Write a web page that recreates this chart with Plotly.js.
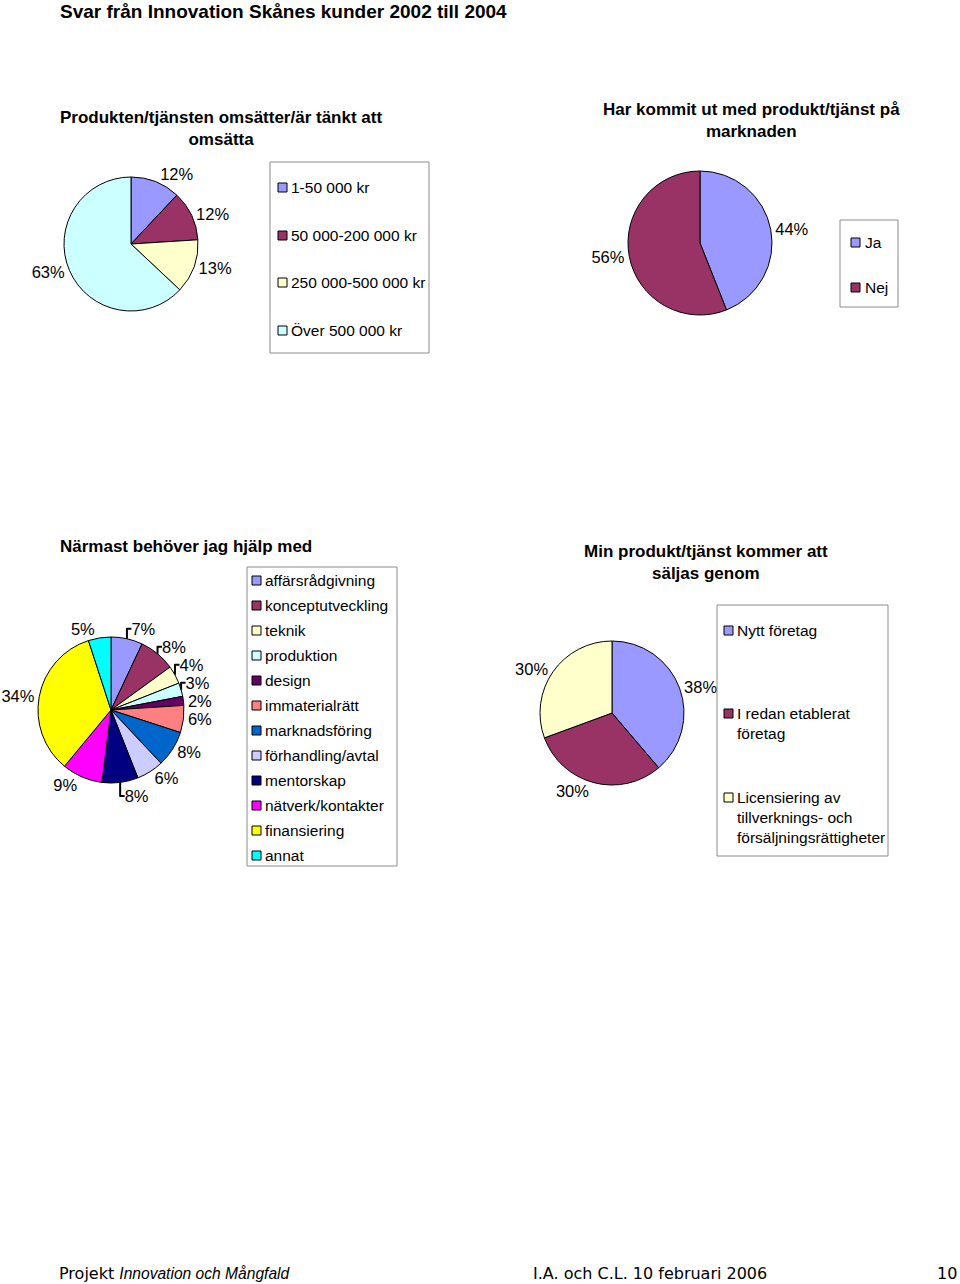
<!DOCTYPE html>
<html>
<head>
<meta charset="utf-8">
<script src="https://cdn.plot.ly/plotly-3.0.1.min.js"></script>
<style>
html,body{margin:0;padding:0;background:#fff;}
#chart{width:960px;height:1284px;}
</style>
</head>
<body>
<div id="chart"></div>
<script>
// ---------- Data ----------
const omsLabels = ['1-50 000 kr', '50 000-200 000 kr', '250 000-500 000 kr', 'Över 500 000 kr'];
const omsValues = [12, 12, 13, 63];
const omsColors = ['#9999FF', '#993366', '#FFFFCC', '#CCFFFF'];

const marknLabels = ['Ja', 'Nej'];
const marknValues = [44, 56];
const marknColors = ['#9999FF', '#993366'];

const hjalpLabels = ['affärsrådgivning', 'konceptutveckling', 'teknik', 'produktion', 'design',
  'immaterialrätt', 'marknadsföring', 'förhandling/avtal', 'mentorskap', 'nätverk/kontakter',
  'finansiering', 'annat'];
const hjalpValues = [7, 8, 4, 3, 2, 6, 8, 6, 8, 9, 34, 5];
const hjalpColors = ['#9999FF', '#993366', '#FFFFCC', '#CCFFFF', '#660066', '#FF8080',
  '#0066CC', '#CCCCFF', '#000080', '#FF00FF', '#FFFF00', '#00FFFF'];

const saljLabels = ['Nytt företag', 'I redan etablerat företag',
  'Licensiering av tillverknings- och försäljningsrättigheter'];
const saljLegendText = ['Nytt företag', 'I redan etablerat<br>företag',
  'Licensiering av<br>tillverknings- och<br>försäljningsrättigheter'];
const saljValues = [38, 30, 30];
const saljColors = ['#9999FF', '#993366', '#FFFFCC'];

// ---------- Layout helpers ----------
const W = 960, H = 1284;
const FONT = 'Liberation Sans, Arial, sans-serif';
const px = x => x / W;
const py = y => 1 - y / H;
function dom(cx, cy, r) {
  return {x: [px(cx - r), px(cx + r)], y: [py(cy + r), py(cy - r)]};
}
function pie(labels, values, colors, d) {
  return {
    type: 'pie', labels: labels, values: values, sort: false,
    direction: 'clockwise', rotation: 0,
    marker: {colors: colors, line: {color: '#000', width: 1}},
    textposition: 'outside', texttemplate: '%{value}%',
    textfont: {family: FONT, size: 16.5, color: '#000'},
    domain: d, showlegend: false, hoverinfo: 'none'
  };
}

const data = [
  pie(omsLabels, omsValues, omsColors, dom(131, 244, 67)),
  pie(marknLabels, marknValues, marknColors, dom(700, 243, 72)),
  pie(hjalpLabels, hjalpValues, hjalpColors, dom(111, 710, 73)),
  pie(saljLabels, saljValues, saljColors, dom(612, 713, 72))
];

const shapes = [];
const annotations = [];

function legend(box, swX, txX, ys, texts, colors) {
  shapes.push({type: 'rect', xref: 'paper', yref: 'paper',
    x0: px(box[0]), x1: px(box[2]), y0: py(box[3]), y1: py(box[1]),
    line: {color: '#8c8c8c', width: 1}, fillcolor: 'rgba(0,0,0,0)'});
  texts.forEach((t, i) => {
    const y = ys[i];
    shapes.push({type: 'rect', xref: 'paper', yref: 'paper',
      x0: px(swX), x1: px(swX + 9), y0: py(y + 5), y1: py(y - 4),
      line: {color: '#000', width: 1}, fillcolor: colors[i]});
    annotations.push({xref: 'paper', yref: 'paper', x: px(txX), y: py(y - 10),
      xanchor: 'left', yanchor: 'top', align: 'left', showarrow: false, text: t,
      font: {family: FONT, size: 15.5, color: '#000'}});
  });
}

legend([270, 162, 429, 353], 278, 289, [187, 235, 282, 330], omsLabels, omsColors);
legend([840, 220, 898, 307], 851, 863, [242, 287], marknLabels, marknColors);
legend([247, 567, 397, 866], 252, 263, hjalpLabels.map((_, i) => 580 + 25 * i), hjalpLabels, hjalpColors);
legend([717, 605, 888, 856], 724, 735, [630, 713, 797], saljLegendText, saljColors);

function title(text, x, y, anchor, size) {
  annotations.push({xref: 'paper', yref: 'paper', x: px(x), y: py(y),
    xanchor: anchor, yanchor: 'middle', align: 'center', showarrow: false,
    text: '<b>' + text + '</b>', font: {family: FONT, size: size, color: '#000'}});
}
title('Svar från Innovation Skånes kunder 2002 till 2004', 58, 11, 'left', 19);
title('Produkten/tjänsten omsätter/är tänkt att<br>omsätta', 221, 129, 'center', 17);
title('Har kommit ut med produkt/tjänst på<br>marknaden', 751, 120, 'center', 17);
title('Närmast behöver jag hjälp med', 186, 546, 'center', 17);
title('Min produkt/tjänst kommer att<br>säljas genom', 706, 562, 'center', 17);

const FOOT = 'DejaVu Sans, Verdana, sans-serif';
function foot(text, x, anchor) {
  annotations.push({xref: 'paper', yref: 'paper', x: px(x), y: py(1273),
    xanchor: anchor, yanchor: 'middle', showarrow: false, text: text,
    font: {family: FOOT, size: 16, color: '#000'}});
}
foot('Projekt <span style="font-family:Liberation Sans, Arial, sans-serif;font-size:15.6px"><i>Innovation och Mångfald</i></span>', 57, 'left');
foot('I.A. och C.L. 10 februari 2006', 531, 'left');
foot('10', 959, 'right');

const layout = {
  width: W, height: H,
  margin: {l: 0, r: 0, t: 0, b: 0},
  paper_bgcolor: '#fff', plot_bgcolor: '#fff',
  showlegend: false,
  shapes: shapes, annotations: annotations
};

Plotly.newPlot('chart', data, layout, {displayModeBar: false, staticPlot: true});
</script>
</body>
</html>
